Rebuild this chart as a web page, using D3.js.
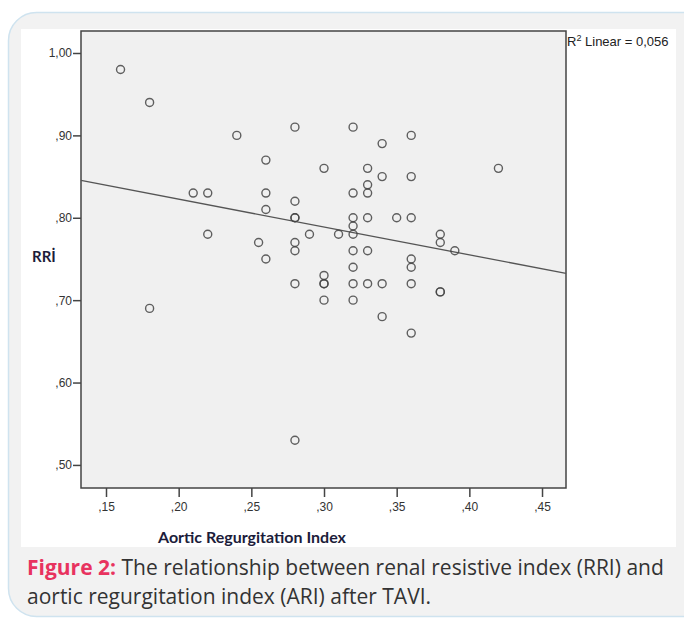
<!DOCTYPE html>
<html>
<head>
<meta charset="utf-8">
<script src="https://cdn.jsdelivr.net/npm/d3@7"></script>
<style>
  body { margin: 0; background: #fff; }
  svg { display: block; }
</style>
</head>
<body>
<svg id="chart" width="684" height="619"></svg>
<script>
// aortic regurgitation index (x) and renal resistive index (y), one entry per patient
var ari = [0.16, 0.18, 0.24, 0.28, 0.32, 0.34, 0.36, 0.26, 0.30, 0.33,
           0.42, 0.34, 0.36, 0.33, 0.33, 0.32, 0.21, 0.22, 0.26, 0.28,
           0.26, 0.28, 0.28, 0.32, 0.33, 0.35, 0.36, 0.32, 0.22, 0.29,
           0.31, 0.32, 0.38, 0.255, 0.28, 0.38, 0.28, 0.32, 0.33, 0.39,
           0.26, 0.36, 0.32, 0.36, 0.30, 0.30, 0.30, 0.28, 0.32, 0.33,
           0.34, 0.36, 0.38, 0.38, 0.18, 0.30, 0.32, 0.34, 0.36, 0.28];
var rri = [0.98, 0.94, 0.90, 0.91, 0.91, 0.89, 0.90, 0.87, 0.86, 0.86,
           0.86, 0.85, 0.85, 0.84, 0.83, 0.83, 0.83, 0.83, 0.83, 0.82,
           0.81, 0.80, 0.80, 0.80, 0.80, 0.80, 0.80, 0.79, 0.78, 0.78,
           0.78, 0.78, 0.78, 0.77, 0.77, 0.77, 0.76, 0.76, 0.76, 0.76,
           0.75, 0.75, 0.74, 0.74, 0.73, 0.72, 0.72, 0.72, 0.72, 0.72,
           0.72, 0.72, 0.71, 0.71, 0.69, 0.70, 0.70, 0.68, 0.66, 0.53];

var xTicks = [0.15, 0.20, 0.25, 0.30, 0.35, 0.40, 0.45];
var yTicks = [0.50, 0.60, 0.70, 0.80, 0.90, 1.00];
var r2Label = "0,056";
var xTitle = "Aortic Regurgitation Index";
var yTitle = "RRİ";
var captionLines = [
  ["Figure 2:", " The relationship between renal resistive index (RRI) and"],
  ["", "aortic regurgitation index (ARI) after TAVI."]
];

(function () {
var svg = d3.select("#chart");

// outer rounded card and white chart panel
svg.append("rect")
    .attr("x", 8.5).attr("y", 12.5)
    .attr("width", 720).attr("height", 604)
    .attr("rx", 28)
    .attr("fill", "#f2f2f2")
    .attr("stroke", "#cfe3ef")
    .attr("stroke-width", 1.5);

svg.append("rect")
    .attr("x", 21).attr("y", 29)
    .attr("width", 655).attr("height", 518)
    .attr("fill", "#fff");

var pLeft = 81, pRight = 566, pTop = 31, pBottom = 488;

var x = d3.scaleLinear().domain([0.1328, 0.4665]).range([pLeft, pRight]);
var y = d3.scaleLinear().domain([0.472, 1.0267]).range([pBottom, pTop]);

svg.append("rect")
    .attr("x", pLeft).attr("y", pTop)
    .attr("width", pRight - pLeft).attr("height", pBottom - pTop)
    .attr("fill", "#f0f0f0")
    .attr("stroke", "#444")
    .attr("stroke-width", 1.5);

// SPSS style labels: 1,00  ,90  ,15 ...
function spss(d) {
    var s = d3.format(".2f")(d).replace(".", ",");
    return s.charAt(0) === "0" ? s.slice(1) : s;
}

var yAxis = svg.append("g")
    .attr("transform", "translate(" + pLeft + ",0)")
    .call(d3.axisLeft(y).tickValues(yTicks).tickFormat(spss).tickSize(8).tickPadding(1));

var xAxis = svg.append("g")
    .attr("transform", "translate(0," + pBottom + ")")
    .call(d3.axisBottom(x).tickValues(xTicks).tickFormat(spss).tickSize(9).tickPadding(5));

[xAxis, yAxis].forEach(function (g) {
    g.select(".domain").remove();
    g.selectAll(".tick line").attr("stroke", "#444").attr("stroke-width", 1.5);
    g.selectAll(".tick text")
        .attr("fill", "#333")
        .style("font-family", "'Liberation Sans', Arial, sans-serif")
        .style("font-size", "12px");
});

// least squares fit line
var n = ari.length;
var mx = d3.mean(ari), my = d3.mean(rri);
var sxy = 0, sxx = 0;
for (var i = 0; i < n; i++) {
    sxy += (ari[i] - mx) * (rri[i] - my);
    sxx += (ari[i] - mx) * (ari[i] - mx);
}
var slope = sxy / sxx;
var intercept = my - slope * mx;
var xd = x.domain();

svg.append("line")
    .attr("x1", x(xd[0])).attr("y1", y(intercept + slope * xd[0]))
    .attr("x2", x(xd[1])).attr("y2", y(intercept + slope * xd[1]))
    .attr("stroke", "#555")
    .attr("stroke-width", 1.3);

svg.append("g").selectAll("circle")
    .data(d3.range(n))
    .enter().append("circle")
    .attr("cx", function (i) { return x(ari[i]); })
    .attr("cy", function (i) { return y(rri[i]); })
    .attr("r", 4)
    .attr("fill", "none")
    .attr("stroke", "#444")
    .attr("stroke-opacity", 0.85)
    .attr("stroke-width", 1.4);

// R squared note
var r2 = svg.append("text")
    .attr("x", 567).attr("y", 46)
    .attr("fill", "#222")
    .style("font-family", "'Liberation Sans', Arial, sans-serif")
    .style("font-size", "13px");
r2.append("tspan").text("R");
r2.append("tspan").attr("dy", -5).style("font-size", "9px").text("2");
r2.append("tspan").attr("dy", 5).text(" Linear = " + r2Label);

svg.append("text")
    .attr("x", 32).attr("y", 262)
    .attr("fill", "#1c1c3a")
    .style("font-family", "Lato, sans-serif")
    .style("font-weight", "bold")
    .style("font-size", "15px")
    .text(yTitle);

svg.append("text")
    .attr("x", 158).attr("y", 543)
    .attr("fill", "#1c1c3a")
    .style("font-family", "Lato, sans-serif")
    .style("font-weight", "bold")
    .style("font-size", "16px")
    .text(xTitle);

// caption
var cap = svg.append("g")
    .style("font-family", "'Open Sans', sans-serif")
    .style("font-size", "21px");

captionLines.forEach(function (line, k) {
    var t = cap.append("text")
        .attr("x", 27).attr("y", 575 + k * 29)
        .attr("fill", "#333");
    if (line[0]) {
        t.append("tspan").attr("fill", "#e8335f").style("font-weight", "bold").text(line[0]);
    }
    t.append("tspan").text(line[1]);
});
})();
</script>
</body>
</html>
